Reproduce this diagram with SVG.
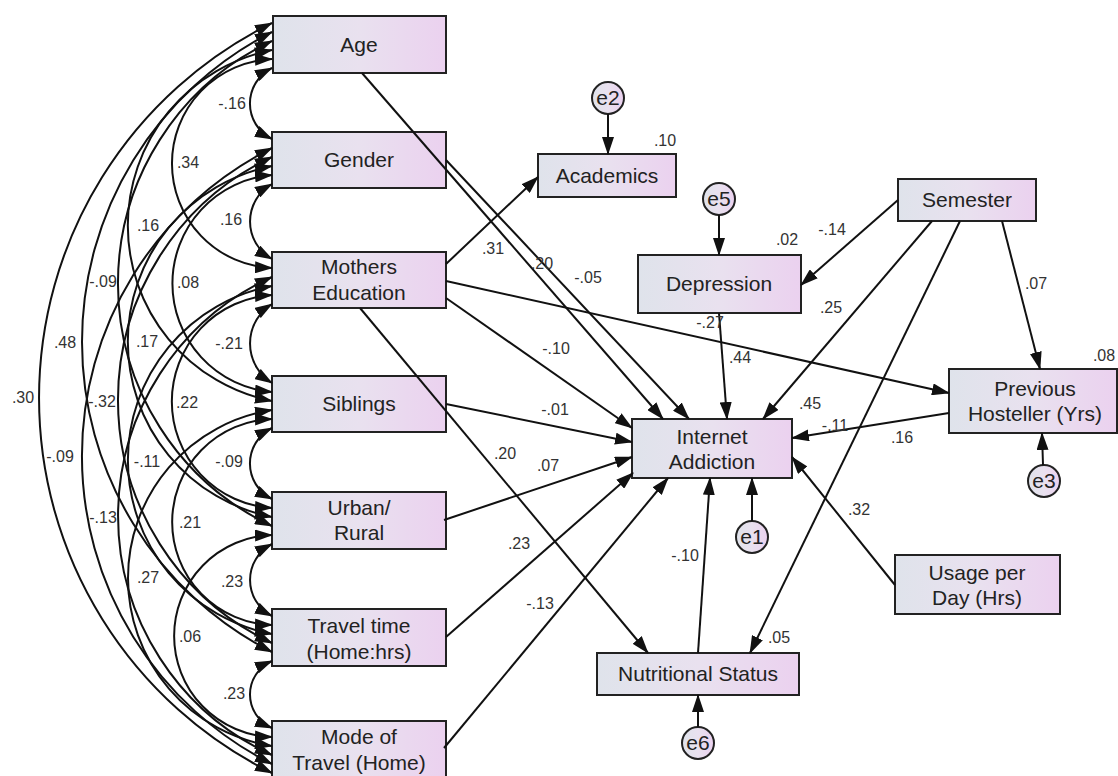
<svg xmlns="http://www.w3.org/2000/svg" width="1118" height="776" viewBox="0 0 1118 776">
<defs>
<linearGradient id="g" x1="0" y1="0" x2="1" y2="0">
<stop offset="0" stop-color="#dfe3eb"/>
<stop offset="0.5" stop-color="#e9e1ef"/>
<stop offset="1" stop-color="#ebd1ef"/>
</linearGradient>
<marker id="ah" viewBox="0 0 18 12" refX="17" refY="6" markerWidth="18" markerHeight="12" markerUnits="userSpaceOnUse" orient="auto-start-reverse">
<path d="M0,0 L18,6 L0,12 z" fill="#111"/>
</marker>
<style>
.box{fill:url(#g);stroke:#222;stroke-width:2}
.err{fill:url(#g);stroke:#222;stroke-width:2}
.t{font-family:"Liberation Sans",Arial,sans-serif;font-size:21px;text-anchor:middle;fill:#222}
.n{font-family:"Liberation Sans",Arial,sans-serif;font-size:16px;text-anchor:middle;fill:#333}
.p{fill:none;stroke:#111;stroke-width:2;marker-end:url(#ah)}
.cov{fill:none;stroke:#111;stroke-width:2;marker-start:url(#ah);marker-end:url(#ah)}
</style>
</defs>
<rect width="1118" height="776" fill="#fff"/>

<g id="age"><rect class="box" x="273" y="16" width="173" height="57"/><text class="t" x="359" y="52">Age</text></g>
<g id="gender"><rect class="box" x="272" y="132" width="174" height="56"/><text class="t" x="359" y="167">Gender</text></g>
<g id="mothers-education"><rect class="box" x="272" y="252" width="174" height="56"/><text class="t" x="359" y="274">Mothers</text><text class="t" x="359" y="300">Education</text></g>
<g id="siblings"><rect class="box" x="272" y="376" width="174" height="56"/><text class="t" x="359" y="411">Siblings</text></g>
<g id="urban-rural"><rect class="box" x="272" y="492" width="174" height="57"/><text class="t" x="359" y="515">Urban/</text><text class="t" x="359" y="540">Rural</text></g>
<g id="travel-time"><rect class="box" x="272" y="609" width="174" height="57"/><text class="t" x="359" y="633">Travel time</text><text class="t" x="359" y="659">(Home:hrs)</text></g>
<g id="mode-of-travel"><rect class="box" x="272" y="721" width="174" height="57"/><text class="t" x="359" y="744">Mode of</text><text class="t" x="359" y="770">Travel (Home)</text></g>

<g id="academics"><rect class="box" x="538" y="154" width="138" height="43"/><text class="t" x="607" y="183">Academics</text></g>
<g id="depression"><rect class="box" x="638" y="255" width="163" height="58"/><text class="t" x="719" y="291">Depression</text></g>
<g id="semester"><rect class="box" x="898" y="179" width="138" height="42"/><text class="t" x="967" y="207">Semester</text></g>
<g id="previous-hosteller"><rect class="box" x="949" y="369" width="168" height="64"/><text class="t" x="1035" y="396">Previous</text><text class="t" x="1035" y="421">Hosteller (Yrs)</text></g>
<g id="internet-addiction"><rect class="box" x="632" y="419" width="160" height="59"/><text class="t" x="712" y="444">Internet</text><text class="t" x="712" y="469">Addiction</text></g>
<g id="usage-per-day"><rect class="box" x="895" y="555" width="165" height="59"/><text class="t" x="977" y="580">Usage per</text><text class="t" x="977" y="605">Day (Hrs)</text></g>
<g id="nutritional-status"><rect class="box" x="597" y="653" width="202" height="42"/><text class="t" x="698" y="681">Nutritional Status</text></g>

<g id="e2"><circle class="err" cx="608" cy="98" r="16"/><text class="t" x="608" y="105">e2</text></g>
<g id="e5"><circle class="err" cx="719" cy="199" r="16"/><text class="t" x="719" y="206">e5</text></g>
<g id="e1"><circle class="err" cx="752" cy="537" r="16"/><text class="t" x="752" y="544">e1</text></g>
<g id="e3"><circle class="err" cx="1044" cy="481" r="16"/><text class="t" x="1044" y="488">e3</text></g>
<g id="e6"><circle class="err" cx="698" cy="743" r="16"/><text class="t" x="698" y="750">e6</text></g>

<g id="connectors">
<!-- covariances d=1 -->
<path class="cov" d="M272,68 A39.6,39.6 0 0 0 272,139"/>
<path class="cov" d="M272,184 A43,43 0 0 0 272,259"/>
<path class="cov" d="M272,304 A46.5,46.5 0 0 0 272,383"/>
<path class="cov" d="M272,428 A39.6,39.6 0 0 0 272,499"/>
<path class="cov" d="M272,544 A40.5,40.5 0 0 0 272,616"/>
<path class="cov" d="M272,661 A36.5,36.5 0 0 0 272,728"/>
<!-- d=2 -->
<path class="cov" d="M272,59 A104.6,104.6 0 0 0 272,268"/>
<path class="cov" d="M272,175 A108.9,108.9 0 0 0 272,392"/>
<path class="cov" d="M272,295 A106.7,106.7 0 0 0 272,508"/>
<path class="cov" d="M272,419 A103.05,103.05 0 0 0 272,625"/>
<path class="cov" d="M272,535 A101.05,101.05 0 0 0 272,737"/>
<!-- d=3 -->
<path class="cov" d="M272,50 A178.9,178.9 0 0 0 272,401"/>
<path class="cov" d="M272,166 A178.9,178.9 0 0 0 272,517"/>
<path class="cov" d="M272,286 A177.1,177.1 0 0 0 272,634"/>
<path class="cov" d="M272,410 A170,170 0 0 0 272,746"/>
<!-- d=4 -->
<path class="cov" d="M272,41 A267.9,267.9 0 0 0 272,526"/>
<path class="cov" d="M272,157 A268.7,268.7 0 0 0 272,643"/>
<path class="cov" d="M272,277 A262.5,262.5 0 0 0 272,755"/>
<!-- d=5 -->
<path class="cov" d="M272,32 A347.9,347.9 0 0 0 272,652"/>
<path class="cov" d="M272,148 A344.6,344.6 0 0 0 272,764"/>
<!-- d=6 -->
<path class="cov" d="M272,23 A418.3,418.3 0 0 0 272,773"/>

<!-- regression paths -->
<path class="p" d="M362,73 L663,419"/>
<path class="p" d="M446,160 L689,419"/>
<path class="p" d="M446,264 L538,177"/>
<path class="p" d="M446,281 L949,393"/>
<path class="p" d="M446,298 L632,428"/>
<path class="p" d="M360,308 L648,653"/>
<path class="p" d="M446,404 L632,442"/>
<path class="p" d="M444,520 L632,457"/>
<path class="p" d="M446,637 L633,473"/>
<path class="p" d="M444,748 L668,478"/>
<path class="p" d="M719,313 L727,419"/>
<path class="p" d="M932,221 L763,419"/>
<path class="p" d="M898,200 L801,285"/>
<path class="p" d="M960,221 L750,653"/>
<path class="p" d="M1002,221 L1040,369"/>
<path class="p" d="M949,413 L792,438"/>
<path class="p" d="M895,585 L792,457"/>
<path class="p" d="M698,653 L710,478"/>
<path class="p" d="M752,521 L752,478"/>
<path class="p" d="M608,114 L608,154"/>
<path class="p" d="M719,215 L719,255"/>
<path class="p" d="M1043,465 L1042,433"/>
<path class="p" d="M698,727 L698,695"/>
</g>

<g id="labels">
<text class="n" x="232" y="109">-.16</text>
<text class="n" x="188" y="168">.34</text>
<text class="n" x="148" y="231">.16</text>
<text class="n" x="231" y="225">.16</text>
<text class="n" x="103" y="287">-.09</text>
<text class="n" x="188" y="288">.08</text>
<text class="n" x="65" y="348">.48</text>
<text class="n" x="147" y="347">.17</text>
<text class="n" x="229" y="349">-.21</text>
<text class="n" x="23" y="403">.30</text>
<text class="n" x="102" y="407">-.32</text>
<text class="n" x="187" y="408">.22</text>
<text class="n" x="60" y="462">-.09</text>
<text class="n" x="147" y="467">-.11</text>
<text class="n" x="229" y="467">-.09</text>
<text class="n" x="103" y="523">-.13</text>
<text class="n" x="190" y="528">.21</text>
<text class="n" x="148" y="583">.27</text>
<text class="n" x="232" y="587">.23</text>
<text class="n" x="190" y="642">.06</text>
<text class="n" x="234" y="699">.23</text>

<text class="n" x="665" y="146">.10</text>
<text class="n" x="493" y="254">.31</text>
<text class="n" x="542" y="269">.20</text>
<text class="n" x="588" y="283">-.05</text>
<text class="n" x="787" y="245">.02</text>
<text class="n" x="832" y="235">-.14</text>
<text class="n" x="831" y="313">.25</text>
<text class="n" x="1036" y="289">.07</text>
<text class="n" x="1104" y="361">.08</text>
<text class="n" x="710" y="328">-.27</text>
<text class="n" x="740" y="363">.44</text>
<text class="n" x="556" y="354">-.10</text>
<text class="n" x="555" y="415">-.01</text>
<text class="n" x="810" y="409">.45</text>
<text class="n" x="835" y="431">-.11</text>
<text class="n" x="902" y="443">.16</text>
<text class="n" x="505" y="459">.20</text>
<text class="n" x="548" y="471">.07</text>
<text class="n" x="519" y="549">.23</text>
<text class="n" x="540" y="609">-.13</text>
<text class="n" x="859" y="515">.32</text>
<text class="n" x="685" y="561">-.10</text>
<text class="n" x="779" y="643">.05</text>
</g>
</svg>
